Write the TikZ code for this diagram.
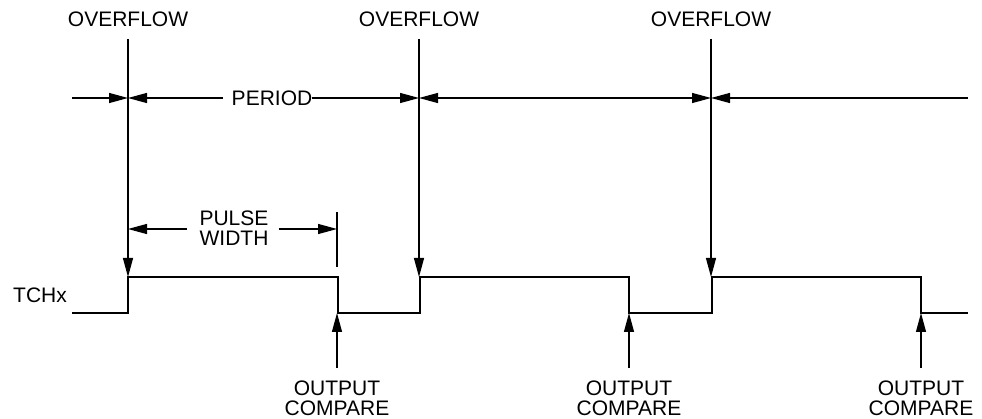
\documentclass[tikz,border=0pt]{standalone}
\usepackage{fontspec}
\setmainfont{Liberation Sans}
\usetikzlibrary{arrows.meta}
\begin{document}
\begin{tikzpicture}[x=1pt,y=-1pt,
  lbl/.style={font=\fontsize{21}{20}\selectfont, inner sep=0pt, align=center},
  thinline/.style={line width=1.2pt},
  wave/.style={line width=2.8pt, line join=miter},
  tipend/.style={-{Triangle[length=19pt,width=10pt]}},
  tipboth/.style={{Triangle[length=19pt,width=10pt]}-{Triangle[length=19pt,width=10pt]}},
]
\useasboundingbox (0,0) rectangle (982,419);

% labels
\node[lbl] (ov1) at (128,19) {OVERFLOW};
\node[lbl] (ov2) at (419,19) {OVERFLOW};
\node[lbl] (ov3) at (711,19) {OVERFLOW};
\node[lbl] (period) at (272,98) {PERIOD};
\node[lbl] (pw) at (234,228) {PULSE\\WIDTH};
\node[lbl, anchor=west] (tch) at (13,295) {TCHx};
\node[lbl] (oc1) at (337,398) {OUTPUT\\COMPARE};
\node[lbl] (oc2) at (629,398) {OUTPUT\\COMPARE};
\node[lbl] (oc3) at (921,398) {OUTPUT\\COMPARE};

% overflow lines
\coordinate (t1) at (128,39);
\coordinate (t2) at (419,39);
\coordinate (t3) at (711,39);
\coordinate (h1) at (128,277);
\coordinate (h2) at (419,277);
\coordinate (h3) at (711,277);
\draw[thinline,tipend] (t1) -- (h1);
\draw[thinline,tipend] (t2) -- (h2);
\draw[thinline,tipend] (t3) -- (h3);

% period line
\coordinate (pstart) at (72,98);
\coordinate (p1) at (128,98);
\coordinate (pgap) at (223,98);
\coordinate (p2) at (419,98);
\coordinate (p3) at (711,98);
\coordinate (pend) at (968,98);
\draw[thinline,tipend] (pstart) -- (p1);
\draw[thinline,tipend] (pgap) -- (p1);
\draw[thinline,tipend] (period.east) -- (p2);
\draw[thinline,tipboth] (p2) -- (p3);
\draw[thinline,tipend] (pend) -- (p3);

% pulse width
\coordinate (w1) at (128,229);
\coordinate (w1g) at (187,229);
\coordinate (w2g) at (279,229);
\coordinate (w2) at (337,229);
\coordinate (k1) at (337,212);
\coordinate (k2) at (337,267);
\draw[thinline,tipend] (w1g) -- (w1);
\draw[thinline,tipend] (w2g) -- (w2);
\draw[thinline] (k1) -- (k2);

% waveform
\draw[wave] (72,313) -- (128,313) -- (128,277) -- (338,277) -- (338,313)
  -- (420,313) -- (420,277) -- (629,277) -- (629,313)
  -- (712,313) -- (712,277) -- (921,277) -- (921,313) -- (968,313);

% output compare arrows
\coordinate (b1) at (337,368);
\coordinate (b2) at (629,368);
\coordinate (b3) at (921,368);
\coordinate (l1) at (337,313);
\coordinate (l2) at (629,313);
\coordinate (l3) at (921,313);
\draw[thinline,tipend] (b1) -- (l1);
\draw[thinline,tipend] (b2) -- (l2);
\draw[thinline,tipend] (b3) -- (l3);
\end{tikzpicture}
\end{document}
